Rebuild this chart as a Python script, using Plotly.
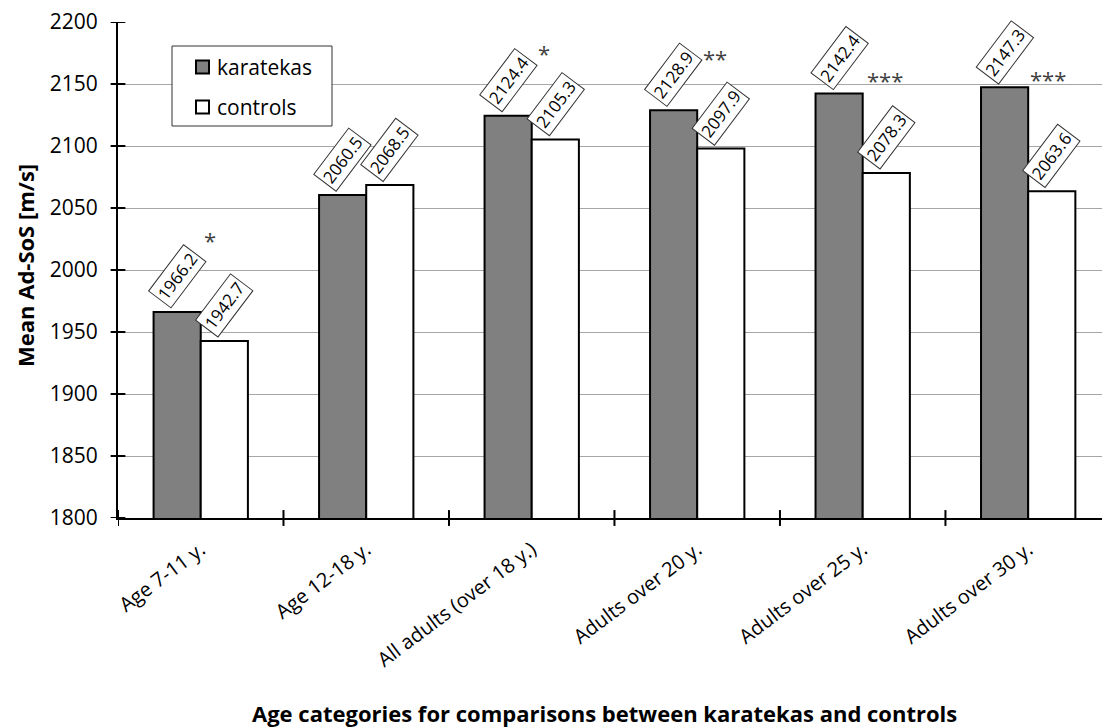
import plotly.graph_objects as go

# Age categories and mean Ad-SoS values [m/s]
categories = [
    "Age 7-11 y.",
    "Age 12-18 y.",
    "All adults (over 18 y.)",
    "Adults over 20 y.",
    "Adults over 25 y.",
    "Adults over 30 y.",
]
karatekas = [1966.2, 2060.5, 2124.4, 2128.9, 2142.4, 2147.3]
controls = [1942.7, 2068.5, 2105.3, 2097.9, 2078.3, 2063.6]
significance = ["*", "", "*", "**", "***", "***"]
series_names = ["karatekas", "controls"]
series_fill = ["#808080", "white"]

y_ticks = [1800, 1850, 1900, 1950, 2000, 2050, 2100, 2150, 2200]

# placement of the significance asterisks (x offset from group centre, y level)
sig_dx = [0.055, 0.0, 0.073, 0.109, 0.133, 0.121]
sig_y = [2024, 2177, 2175, 2171, 2153, 2154]

FONT = "Open Sans"
x_pos = list(range(len(categories)))
bar_gap = 0.43
half = (1 - bar_gap) / 4  # offset of each bar centre from group centre

# plot area in pixels, used to place the hand-drawn legend
PL, PW, PB, PH = 118, 984, 518, 496
def px(x):
    return (x - PL) / PW
def py(y):
    return (PB - y) / PH

fig = go.Figure()
for name, vals, fill in zip(series_names, (karatekas, controls), series_fill):
    fig.add_trace(go.Bar(
        x=x_pos, y=vals, name=name, showlegend=False,
        marker=dict(color=fill, line=dict(color="black", width=2)),
    ))

annotations = []
# boxed value labels above each bar
for series, sign in ((karatekas, -1), (controls, 1)):
    for i, v in enumerate(series):
        annotations.append(dict(
            x=i + sign * half, y=v, xref="x", yref="y",
            text=f"{v:.1f}", showarrow=False, textangle=-53,
            xanchor="center", yanchor="bottom", yshift=3,
            font=dict(family=FONT, size=17, color="black"),
            bgcolor="white", bordercolor="#333333", borderwidth=1, borderpad=2,
        ))

# significance marks
for i, s in enumerate(significance):
    if s:
        annotations.append(dict(
            x=i + sig_dx[i], y=sig_y[i], xref="x", yref="y",
            text=s, showarrow=False, xanchor="center", yanchor="middle",
            font=dict(family=FONT, size=22, color="#404040"),
        ))

# axis titles
annotations.append(dict(
    x=0, y=0.5, xref="paper", yref="paper", xshift=-93, yshift=4,
    text="<b>Mean Ad-SoS [m/s]</b>", textangle=-90, showarrow=False,
    xanchor="center", yanchor="middle",
    font=dict(family=FONT, size=22, color="black"),
))
annotations.append(dict(
    x=0.494, y=0, xref="paper", yref="paper", yshift=-195,
    text="<b>Age categories for comparisons between karatekas and controls</b>",
    showarrow=False, xanchor="center", yanchor="middle",
    font=dict(family=FONT, size=22, color="black"),
))

shapes = []
# crossing tick marks on both axes
for t in y_ticks:
    shapes.append(dict(type="line", xref="paper", yref="y",
                       x0=-0.0075, x1=0.0075, y0=t, y1=t,
                       line=dict(color="black", width=2)))
for b in [i - 0.5 for i in range(len(categories) + 1)]:
    shapes.append(dict(type="line", xref="x", yref="paper",
                       x0=b, x1=b, y0=-0.016, y1=0.016,
                       line=dict(color="black", width=2)))

# legend box with swatches and labels
shapes.append(dict(type="rect", xref="paper", yref="paper",
                   x0=px(172), x1=px(332), y0=py(126), y1=py(46),
                   fillcolor="white", line=dict(color="#333333", width=1)))
for k, (name, fill) in enumerate(zip(series_names, series_fill)):
    cy = 67 + 40 * k
    shapes.append(dict(type="rect", xref="paper", yref="paper",
                       x0=px(196), x1=px(209), y0=py(cy + 6.5), y1=py(cy - 6.5),
                       fillcolor=fill, line=dict(color="black", width=2)))
    annotations.append(dict(
        x=px(215), y=py(cy), xref="paper", yref="paper", text=name,
        showarrow=False, xanchor="left", yanchor="middle",
        font=dict(family=FONT, size=21, color="black"),
    ))

fig.update_layout(
    width=1102, height=727,
    margin=dict(l=PL, r=0, t=22, b=209),
    paper_bgcolor="white", plot_bgcolor="white",
    barmode="group", bargap=bar_gap, bargroupgap=0,
    font=dict(family=FONT, color="black"),
    showlegend=False,
    xaxis=dict(
        range=[-0.5, 5.446], tickvals=x_pos, ticktext=categories,
        tickangle=-37, ticks="", showgrid=False, zeroline=False,
        showline=True, linecolor="black", linewidth=2,
        tickfont=dict(family=FONT, size=20, color="black"),
        ticklabelstandoff=10,
    ),
    yaxis=dict(
        range=[1800, 2200], tickvals=y_ticks, ticks="",
        showgrid=True, gridcolor="#A6A6A6", gridwidth=1,
        zeroline=False, showline=True, linecolor="black", linewidth=2,
        tickfont=dict(family=FONT, size=21, color="black"),
        ticklabelstandoff=14,
    ),
    annotations=annotations,
    shapes=shapes,
)

fig.write_html("out.html")
